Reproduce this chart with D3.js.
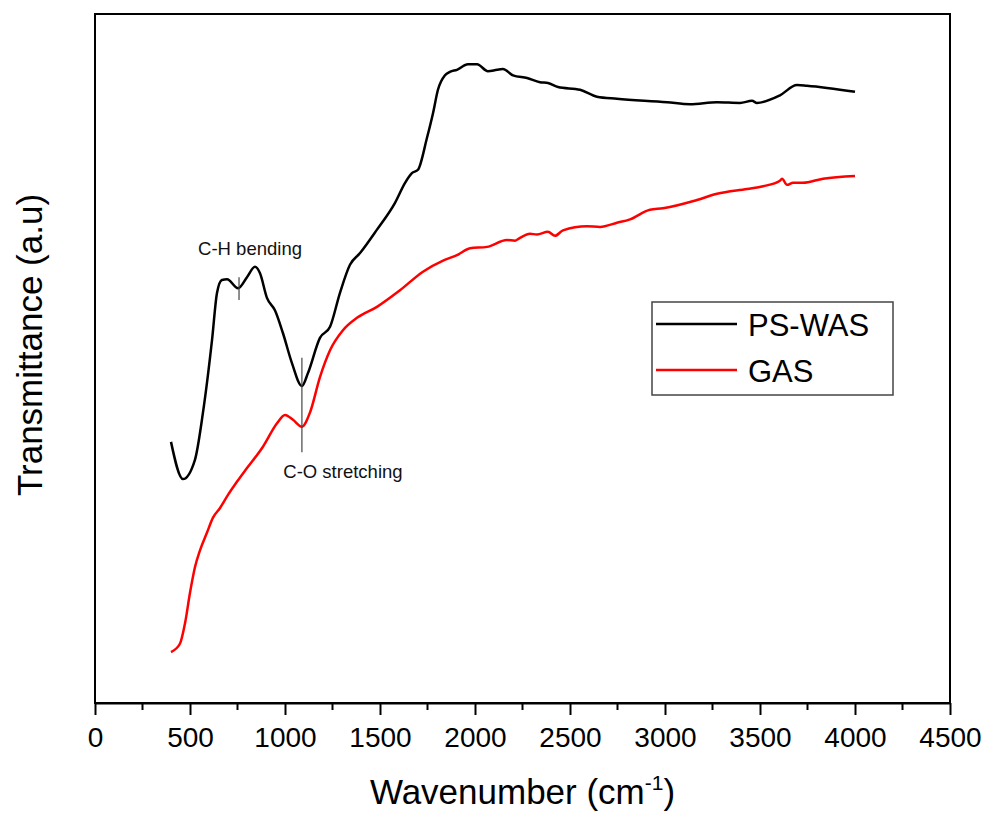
<!DOCTYPE html>
<meta charset="utf-8">

<head>
  <script src="https://d3js.org/d3.v7.min.js"></script>
  <style>
    body { margin: 0; background: #fff; }
    text { font-family: "Liberation Sans", Arial, sans-serif; }
  </style>
</head>

<body>
  <svg id="root"></svg>

  <script>
    // PS-WAS spectrum [wavenumber, transmittance a.u.]
    const psWas = [
      [400, 37.9], [463, 32.5], [526, 35.3], [568, 42.1], [616, 52.7], [642, 59.5],
      [668, 61.4], [695, 61.5], [753, 60.2], [800, 61.8], [842, 63.3], [868, 62.4],
      [905, 58.8], [947, 57.0], [989, 53.7], [1037, 49.3], [1089, 46.0], [1121, 47.9],
      [1184, 53.0], [1237, 54.6], [1289, 59.5], [1342, 63.6], [1395, 65.3], [1484, 68.7],
      [1579, 72.6], [1632, 75.5], [1668, 76.9], [1700, 77.4], [1747, 82.0], [1779, 85.6],
      [1805, 89.0], [1842, 91.1], [1868, 91.6], [1905, 91.9], [1963, 92.7], [2011, 92.7],
      [2068, 91.7], [2116, 91.9], [2147, 92.0], [2200, 91.1], [2274, 90.7], [2342, 90.1],
      [2384, 90.0], [2437, 89.4], [2553, 89.0], [2642, 88.0], [2747, 87.7], [3011, 87.2],
      [3132, 86.9], [3274, 87.2], [3395, 87.1], [3458, 87.4], [3484, 87.1], [3605, 88.2],
      [3695, 89.7], [3747, 89.6], [4000, 88.7]
    ];

    // GAS spectrum
    const gas = [
      [400, 7.4], [447, 8.6], [474, 11.6], [500, 16.0], [526, 19.7], [553, 22.2],
      [589, 24.7], [621, 26.9], [658, 28.3], [700, 30.2], [747, 32.1], [800, 34.1],
      [884, 37.2], [958, 40.6], [1000, 41.8], [1042, 41.1], [1089, 40.1], [1132, 42.2],
      [1184, 47.3], [1237, 51.2], [1305, 54.1], [1379, 55.9], [1484, 57.5], [1605, 59.9],
      [1726, 62.6], [1832, 64.2], [1905, 65.0], [1974, 66.0], [2063, 66.2], [2168, 67.2],
      [2211, 67.1], [2237, 67.5], [2289, 68.1], [2326, 68.0], [2384, 68.4], [2421, 67.8],
      [2463, 68.6], [2589, 69.2], [2658, 69.1], [2747, 69.7], [2816, 70.2], [2921, 71.6],
      [2989, 71.8], [3168, 73.0], [3274, 73.9], [3432, 74.6], [3516, 75.0], [3605, 75.8],
      [3616, 76.1], [3642, 75.2], [3674, 75.5], [3726, 75.5], [3832, 76.1], [4000, 76.5]
    ];

    const seriesNames = ["PS-WAS", "GAS"];
    const seriesColors = ["#000000", "#ff0000"];
    const xTicks = [0, 500, 1000, 1500, 2000, 2500, 3000, 3500, 4000, 4500];
    const xMinorTicks = [250, 750, 1250, 1750, 2250, 2750, 3250, 3750, 4250];

    // band markers: [label, wavenumber, y from, y to, label x, label y]
    const bands = [
      ["C-H bending", 758, 58.5, 61.8, 816, 65.0],
      ["C-O stretching", 1089, 36.4, 50.1, 1305, 32.6]
    ];

    const W = 986, H = 814;
    const margin = { top: 14, right: 36, bottom: 111, left: 95 },
      width = W - margin.left - margin.right,
      height = H - margin.top - margin.bottom;

    const root = d3.select("#root").attr("width", W).attr("height", H);
    const svg = root.append("g")
      .attr("transform", "translate(" + margin.left + "," + margin.top + ")");

    const xScale = d3.scaleLinear([0, 4500], [0, width]);
    const yScale = d3.scaleLinear([0, 100], [height, 0]);

    // frame
    svg.append("rect")
      .attr("x", 0).attr("y", 0)
      .attr("width", width).attr("height", height)
      .attr("fill", "none")
      .attr("stroke", "#000")
      .attr("stroke-width", 2);

    // x axis
    const xAxis = svg.append("g")
      .attr("transform", `translate(0,${height})`)
      .call(d3.axisBottom(xScale).tickValues(xTicks).tickFormat(d3.format("d"))
        .tickSize(12).tickSizeOuter(0).tickPadding(12));
    xAxis.select(".domain").attr("stroke-width", 2);
    xAxis.selectAll(".tick line").attr("stroke-width", 2);
    xAxis.selectAll(".tick text")
      .style("font-family", "'Liberation Sans', Arial, sans-serif")
      .style("font-size", "28px")
      .attr("fill", "#000");

    svg.append("g")
      .selectAll("line")
      .data(xMinorTicks)
      .join("line")
      .attr("x1", d => xScale(d)).attr("x2", d => xScale(d))
      .attr("y1", height).attr("y2", height + 7)
      .attr("stroke", "#000")
      .attr("stroke-width", 2);

    // axis titles
    const xTitle = svg.append("text")
      .attr("x", width / 2)
      .attr("y", height + 101)
      .attr("text-anchor", "middle")
      .style("font-size", "35px");
    xTitle.append("tspan").text("Wavenumber (cm");
    xTitle.append("tspan").attr("dy", -14).style("font-size", "21px").text("-1");
    xTitle.append("tspan").attr("dy", 14).text(")");

    svg.append("text")
      .attr("transform", `translate(${42 - margin.left},${345 - margin.top}) rotate(-90)`)
      .attr("text-anchor", "middle")
      .style("font-size", "35px")
      .text("Transmittance (a.u)");

    // spectra
    const line = d3.line()
      .x(d => xScale(d[0]))
      .y(d => yScale(d[1]))
      .curve(d3.curveMonotoneX);

    [psWas, gas].forEach((data, i) => {
      svg.append("path")
        .datum(data)
        .attr("fill", "none")
        .attr("stroke", seriesColors[i])
        .attr("stroke-width", 2.5)
        .attr("stroke-linejoin", "round")
        .attr("d", line);
    });

    // band markers
    const band = svg.append("g").selectAll("g").data(bands).join("g");
    band.append("line")
      .attr("x1", d => xScale(d[1])).attr("x2", d => xScale(d[1]))
      .attr("y1", d => yScale(d[2])).attr("y2", d => yScale(d[3]))
      .attr("stroke", "#444")
      .attr("stroke-width", 1.2);
    band.append("text")
      .attr("x", d => xScale(d[4]))
      .attr("y", d => yScale(d[5]))
      .attr("text-anchor", "middle")
      .style("font-size", "18.5px")
      .attr("fill", "#111")
      .text(d => d[0]);

    // legend
    const legend = svg.append("g")
      .attr("transform", `translate(${652 - margin.left},${302 - margin.top})`);
    legend.append("rect")
      .attr("width", 241).attr("height", 93)
      .attr("fill", "#fff")
      .attr("stroke", "#444")
      .attr("stroke-width", 1.5);
    const item = legend.selectAll("g.item").data(seriesNames).join("g")
      .attr("class", "item")
      .attr("transform", (d, i) => `translate(0,${22 + i * 46})`);
    item.append("line")
      .attr("x1", 4).attr("x2", 85)
      .attr("stroke", (d, i) => seriesColors[i])
      .attr("stroke-width", 2.5);
    item.append("text")
      .attr("x", 96).attr("y", 12)
      .style("font-size", "31px")
      .text(d => d);
  </script>
</body>
